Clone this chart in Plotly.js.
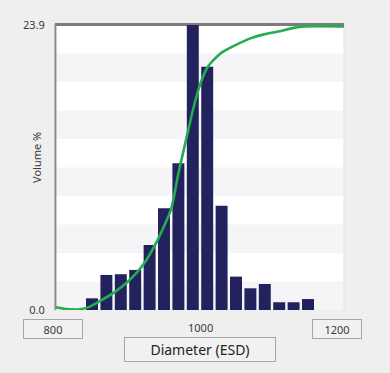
<!DOCTYPE html>
<html>
<head>
<meta charset="utf-8">
<script src="https://cdn.plot.ly/plotly-3.0.1.min.js"></script>
<style>
  html, body { margin: 0; padding: 0; background: #efefef; }
  #chart { width: 390px; height: 373px; }
</style>
</head>
<body>
<div id="chart"></div>
<script>
// Histogram bins (diameter, ESD) and volume %
const binCenters = [850, 870, 890, 910, 930, 950, 970, 990, 1010, 1030, 1050, 1070, 1090, 1110, 1130, 1150];
const volumePct  = [0.98, 2.94, 3.0, 3.36, 5.45, 8.53, 12.3, 23.9, 20.4, 8.75, 2.8, 1.82, 2.18, 0.65, 0.65, 0.92];

// Cumulative curve (percent)
const cumX = [800, 815, 830, 845, 860, 880, 900, 920, 940, 960, 970, 980, 990, 1000, 1010, 1020, 1030, 1050, 1070, 1090, 1110, 1130, 1145, 1200];
const cumY = [1.0, 0.3, 0.2, 1.0, 3.0, 6.0, 10.0, 15.5, 24.0, 35.5, 48.0, 59.0, 70.0, 79.0, 85.0, 88.0, 90.3, 93.0, 95.3, 96.8, 97.8, 99.0, 99.5, 99.5];

// Axis labels
const yTickVals = [0, 23.9];
const yTickText = ['0.0', '23.9'];
const xLabelLeft = '800', xLabelMid = '1000', xLabelRight = '1200';
const xTitle = 'Diameter (ESD)';
const yTitle = 'Volume %';

const fontFam = '"Noto Sans", "Open Sans", "DejaVu Sans", sans-serif';

// alternating background bands
const shapes = [];
const nBands = 10;
for (let i = 0; i < nBands; i++) {
  if (i % 2 === 1) {
    shapes.push({type: 'rect', xref: 'paper', yref: 'paper', x0: 0, x1: 1,
      y0: 1 - (i + 1) / nBands, y1: 1 - i / nBands,
      fillcolor: '#f5f5f8', line: {width: 0}, layer: 'below'});
  }
}
shapes.push({type: 'line', xref: 'paper', yref: 'paper', x0: 1, x1: 1, y0: 0, y1: 1,
  line: {color: '#e2e2e2', width: 1}, layer: 'below'});
shapes.push({type: 'line', xref: 'paper', yref: 'paper', x0: -0.004, x1: 1, y0: 1.002, y1: 1.002,
  line: {color: '#7c7c7c', width: 3}, layer: 'below'});
shapes.push({type: 'line', xref: 'paper', yref: 'paper', x0: -0.002, x1: -0.002, y0: 0, y1: 1,
  line: {color: '#8c8c8c', width: 2}, layer: 'below'});

const boxStyle = {bordercolor: '#a6a6a6', borderwidth: 1, bgcolor: '#f1f1f1'};

const annotations = [
  Object.assign({xref: 'paper', yref: 'paper', x: -0.0104, y: -0.0667, text: xLabelLeft,
    showarrow: false, xanchor: 'center', yanchor: 'middle', width: 56, height: 16,
    font: {family: fontFam, size: 11, color: '#3a3a3a'}}, boxStyle),
  Object.assign({xref: 'paper', yref: 'paper', x: 0.9757, y: -0.0667, text: xLabelRight,
    showarrow: false, xanchor: 'center', yanchor: 'middle', width: 46, height: 16,
    font: {family: fontFam, size: 11, color: '#3a3a3a'}}, boxStyle),
  {xref: 'x', yref: 'paper', x: 1000, y: -0.063, text: xLabelMid, showarrow: false,
    xanchor: 'center', yanchor: 'middle', font: {family: fontFam, size: 11, color: '#3a3a3a'}},
  Object.assign({xref: 'x', yref: 'paper', x: 1000, y: -0.1386, text: xTitle,
    showarrow: false, xanchor: 'center', yanchor: 'middle', width: 148, height: 21,
    font: {family: fontFam, size: 14, color: '#222'}}, boxStyle),
  {xref: 'paper', yref: 'paper', x: -0.066, y: 0.537, text: yTitle, showarrow: false,
    textangle: -90, xanchor: 'center', yanchor: 'middle',
    font: {family: fontFam, size: 11, color: '#3a3a3a'}}
];

const data = [
  {type: 'bar', x: binCenters, y: volumePct, marker: {color: '#22225e', line: {width: 0}},
   hoverinfo: 'skip'},
  {type: 'scatter', mode: 'lines', x: cumX, y: cumY, yaxis: 'y2',
   line: {color: '#22ad4e', width: 2.6, shape: 'spline', smoothing: 0.6}, hoverinfo: 'skip'}
];

const layout = {
  width: 390, height: 373,
  margin: {l: 56, r: 46, t: 25, b: 63, pad: 0},
  paper_bgcolor: '#efefef',
  plot_bgcolor: '#ffffff',
  showlegend: false,
  bargap: 0.17,
  xaxis: {range: [800, 1200], showticklabels: false, showgrid: false, zeroline: false,
    showline: false, ticks: '', fixedrange: true},
  yaxis: {range: [0, 23.9], tickvals: yTickVals, ticktext: yTickText, showgrid: false,
    zeroline: false, showline: false, ticks: 'outside', ticklen: 8, tickcolor: 'rgba(0,0,0,0)',
    tickfont: {family: fontFam, size: 11, color: '#3a3a3a'}, fixedrange: true},
  yaxis2: {range: [0, 100], overlaying: 'y', visible: false, fixedrange: true},
  shapes: shapes,
  annotations: annotations
};

Plotly.newPlot('chart', data, layout, {displayModeBar: false, staticPlot: true});
</script>
</body>
</html>
